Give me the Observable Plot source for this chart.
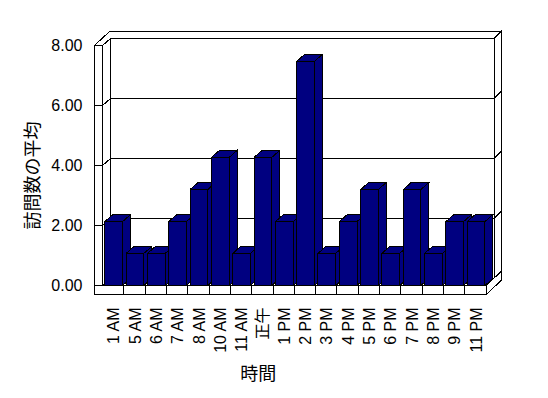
<!DOCTYPE html>
<html>
<head>
<meta charset="utf-8">
<script src="https://cdn.jsdelivr.net/npm/d3@7"></script>
<script src="https://cdn.jsdelivr.net/npm/@observablehq/plot@0.6"></script>
<style>
  html, body { margin: 0; padding: 0; background: #fff; }
  #chart { width: 548px; height: 398px; overflow: hidden; }
</style>
</head>
<body>
<div id="chart"></div>
<script>
// ---- data ----
const hours = ["1 AM","5 AM","6 AM","7 AM","8 AM","10 AM","11 AM","正午","1 PM","2 PM","3 PM","4 PM","5 PM","6 PM","7 PM","8 PM","9 PM","11 PM"];
const visits = [2.13,1.07,1.07,2.13,3.2,4.27,1.07,4.27,2.13,7.47,1.07,2.13,3.2,1.07,3.2,1.07,2.13,2.13];
const yTicks = [0, 2, 4, 6, 8];
const yTickLabels = ["0.00","2.00","4.00","6.00","8.00"];
const xTitle = "時間";
const yTitle = "訪問数の平均";

// ---- layout ----
const W = 548, H = 398, ML = 102, MR = 62.33, MT = 45, MB = 113;
const nCat = hours.length;
const yMax = yTicks[yTicks.length - 1];
const kx = nCat / (W - ML - MR);      // data units per px (x)
const ky = yMax / (H - MT - MB);      // data units per px (y)
const D = {x: 8 * kx, y: 7 * ky};     // depth of floor / bars
const T = {x: 7 * kx, y: 7 * ky};     // wall thickness
const wallW = 8 * kx, floorH = 9 * ky;
const barX0 = 0.11, barX1 = 0.94;

// walls, floor (white faces)
const frame = [];
const poly = (id, pts) => pts.concat([pts[0]]).forEach(([x, y]) => frame.push({id, x, y}));
poly("top", [[-wallW, yMax], [0, yMax], [D.x, yMax + D.y], [nCat + D.x, yMax + D.y],
             [nCat + D.x + T.x, yMax + D.y + T.y], [-wallW + D.x + T.x, yMax + D.y + T.y]]);
poly("leftInner", [[0, 0], [0, yMax], [D.x, yMax + D.y], [D.x, D.y]]);
poly("backFront", [[D.x, D.y], [D.x, yMax + D.y], [nCat + D.x, yMax + D.y], [nCat + D.x, D.y]]);
poly("backRight", [[nCat + D.x, D.y], [nCat + D.x, yMax + D.y], [nCat + D.x + T.x, yMax + D.y + T.y], [nCat + D.x + T.x, D.y + T.y]]);
poly("floorTop", [[0, 0], [nCat, 0], [nCat + D.x, D.y], [D.x, D.y]]);
poly("floorRight", [[nCat, -floorH], [nCat, 0], [nCat + D.x + T.x, D.y + T.y], [nCat + D.x + T.x, -floorH + D.y + T.y]]);
poly("front", [[-wallW, -floorH], [nCat, -floorH], [nCat, 0], [0, 0], [0, yMax], [-wallW, yMax]]);

// grid lines & ticks (black segments)
const lines = [];
yTicks.forEach((v, i) => {
  if (v > 0 && v < yMax) {
    [[0, v], [D.x, v + D.y], [nCat + D.x, v + D.y], [nCat + D.x + T.x, v + D.y + T.y]]
      .forEach(([x, y]) => lines.push({id: "g" + i, x, y}));
  }
  lines.push({id: "t" + i, x: -wallW, y: v}, {id: "t" + i, x: 0, y: v});
});
for (let i = 1; i < nCat; i++) lines.push({id: "d" + i, x: i, y: -floorH}, {id: "d" + i, x: i, y: 0});

// 3D bars (navy faces), painter's order left to right
const bars = [];
const bpoly = (id, pts) => pts.concat([pts[0]]).forEach(([x, y]) => bars.push({id, x, y}));
visits.forEach((v, i) => {
  const x0 = i + barX0, x1 = i + barX1;
  bpoly(i + "s", [[x1, 0], [x1, v], [x1 + D.x, v + D.y], [x1 + D.x, D.y]]);
  bpoly(i + "t", [[x0, v], [x1, v], [x1 + D.x, v + D.y], [x0 + D.x, v + D.y]]);
  bpoly(i + "f", [[x0, 0], [x1, 0], [x1, v], [x0, v]]);
});

const lineStyle = {strokeWidth: 1, strokeLinejoin: "miter", strokeLinecap: "butt", strokeMiterlimit: 4};

const chart = Plot.plot({
  width: W, height: H,
  marginLeft: ML, marginRight: MR, marginTop: MT, marginBottom: MB,
  x: {type: "linear", domain: [0, nCat], axis: null},
  y: {type: "linear", domain: [0, yMax], axis: null},
  style: {fontFamily: "'Liberation Sans','Noto Sans CJK JP',sans-serif", fontSize: "16px", background: "#fff", color: "#000", shapeRendering: "crispEdges"},
  marks: [
    Plot.line(frame, {x: "x", y: "y", z: "id", fill: "#fff", stroke: "#000", ...lineStyle}),
    Plot.line(lines, {x: "x", y: "y", z: "id", stroke: "#000", ...lineStyle}),
    Plot.line(bars, {x: "x", y: "y", z: "id", fill: "#000080", stroke: "#000", ...lineStyle}),
    Plot.text(yTicks, {x: () => -wallW, y: d => d, text: (d, i) => yTickLabels[i], textAnchor: "end", dx: -12, fill: "#000"}),
    Plot.text(hours, {x: (d, i) => i + 0.5, y: () => -floorH, text: d => d, rotate: -90, textAnchor: "end", lineAnchor: "middle", dx: 1, dy: 13, fill: "#000"}),
    Plot.text([xTitle], {frameAnchor: "bottom", text: d => d, lineAnchor: "middle", dx: -36, dy: 89, fontSize: 18, fill: "#000"}),
    Plot.text([yTitle], {frameAnchor: "left", text: d => d, rotate: -90, lineAnchor: "middle", textAnchor: "middle", dx: -69, dy: 10, fontSize: 18, fill: "#000"})
  ]
});
document.getElementById("chart").appendChild(chart);
</script>
</body>
</html>
